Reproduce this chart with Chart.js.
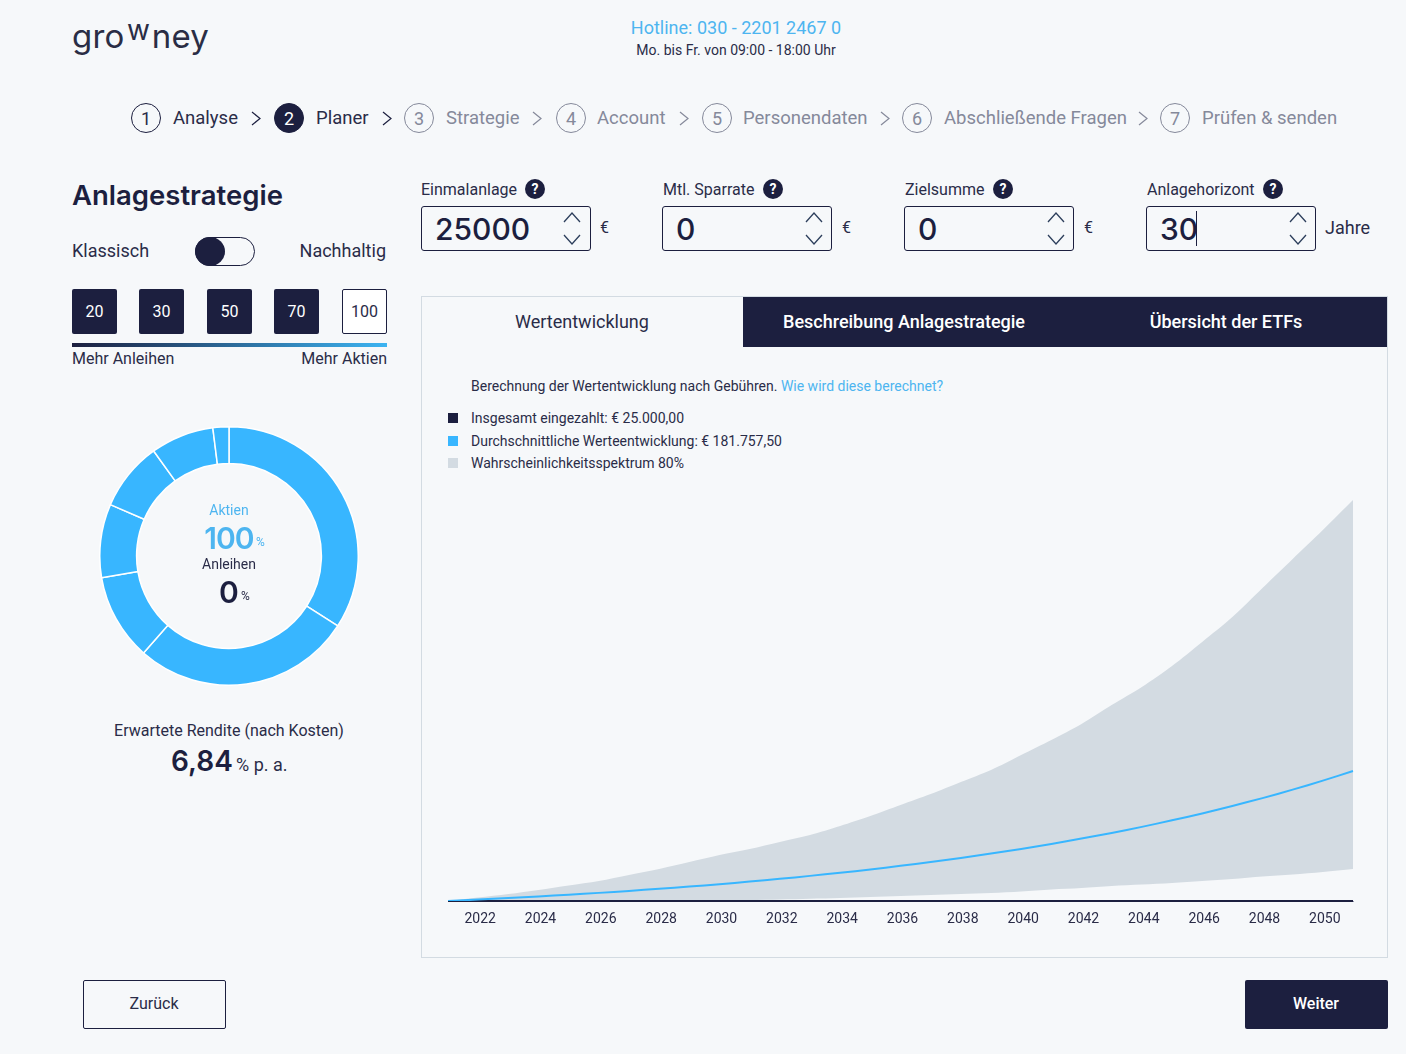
<!DOCTYPE html>
<html lang="de">
<head>
<meta charset="utf-8">
<title>growney Planer</title>
<script src="https://cdn.jsdelivr.net/npm/chart.js@4"></script>
<style>
  :root { --navy:#1c1f3f; --blue:#38b6ff; --link:#4db5f0; --band:#d3dbe2; --mute:#85899a; --bg:#f6f8fa; }
  html, body { margin:0; padding:0; background:var(--bg); }
  body { width:1406px; height:1054px; position:relative; overflow:hidden; font-family:Roboto, sans-serif; color:#2a2c48; }
  .t { position:absolute; white-space:nowrap; line-height:1; transform:translateY(-50%); }
  .c { transform:translate(-50%,-50%); }
  .inter { font-family:Inter, sans-serif; }
  .box { position:absolute; box-sizing:border-box; }
  .pick { top:289px; width:45px; height:45px; background:var(--navy); color:#fff; font-size:16px; display:flex; align-items:center; justify-content:center; border-radius:2px; }
  .pick.off { background:#fff; color:#2a2c48; border:1px solid var(--navy); }
  .step { width:30px; height:30px; top:103px; border:1px solid var(--navy); border-radius:50%; display:flex; align-items:center; justify-content:center; font-size:18px; }
  .step.on { background:var(--navy); color:#fff; }
  .step.todo { border-color:var(--mute); color:var(--mute); }
  .field { top:206px; width:170px; height:45px; border:1px solid var(--navy); border-radius:3px; }
  .val { font-family:Inter, sans-serif; font-size:30px; font-weight:500; color:var(--navy); }
  .help { width:20px; height:20px; top:179px; border-radius:50%; background:var(--navy); color:#fff; font-size:14px; font-weight:700; display:flex; align-items:center; justify-content:center; }
  svg.ic { position:absolute; overflow:visible; fill:none; }
  .tab { top:297px; height:50px; background:var(--navy); }
  .sw { width:10px; height:10px; left:448px; }
  #bandChart { position:absolute; left:422px; top:490px; }
  #donutChart { position:absolute; left:99px; top:426px; }
</style>
</head>
<body>
<div class="t inter" style="left:72px;top:36px;font-size:33px;color:#2a2d45;letter-spacing:.2px">gro<span style="display:inline-block;transform:translateY(-6px) scale(.85,.85)">w</span>ney</div>
<div class="t c" style="left:736px;top:28px;font-size:18px;color:var(--link)">Hotline: 030 - 2201 2467 0</div>
<div class="t c" style="left:736px;top:50px;font-size:14px">Mo. bis Fr. von 09:00 - 18:00 Uhr</div>
<div id="steps"></div>

<div class="t inter" style="left:72px;top:196px;font-size:27.5px;font-weight:600;color:var(--navy)">Anlagestrategie</div>
<div class="t" style="left:72px;top:251px;font-size:18px">Klassisch</div>
<div class="box" style="left:195px;top:237px;width:60px;height:29px;border:1px solid var(--navy);border-radius:15px"></div>
<div class="box" style="left:195px;top:237px;width:30px;height:29px;background:var(--navy);border-radius:50%"></div>
<div class="t" style="right:1020px;top:251px;font-size:18px">Nachhaltig</div>
<div class="box pick" style="left:72px">20</div>
<div class="box pick" style="left:139px">30</div>
<div class="box pick" style="left:207px">50</div>
<div class="box pick" style="left:274px">70</div>
<div class="box pick off" style="left:342px">100</div>
<div class="box" style="left:72px;top:343px;width:315px;height:4px;background:linear-gradient(90deg,#1c1f3f,#3cb4f2)"></div>
<div class="t" style="left:72px;top:359px;font-size:16px">Mehr Anleihen</div>
<div class="t" style="right:1019px;top:359px;font-size:16px">Mehr Aktien</div>

<canvas id="donutChart" width="260" height="260"></canvas>
<div class="t c" style="left:229px;top:510px;font-size:14px;color:var(--link)">Aktien</div>
<div class="t c inter" style="left:229px;top:538px;font-size:30px;font-weight:600;color:var(--link);letter-spacing:-1px">100</div>
<div class="t" style="left:256px;top:542px;font-size:12px;color:var(--link)">%</div>
<div class="t c" style="left:229px;top:564px;font-size:14px">Anleihen</div>
<div class="t c inter" style="left:229px;top:592px;font-size:30px;font-weight:600;color:var(--navy)">0</div>
<div class="t" style="left:241px;top:596px;font-size:12px">%</div>
<div class="t c" style="left:229px;top:731px;font-size:16px">Erwartete Rendite (nach Kosten)</div>
<div class="t inter" style="left:171px;top:761px;font-size:28px;font-weight:600;color:var(--navy)">6,84</div>
<div class="t" style="left:236px;top:765px;font-size:18px">% p. a.</div>

<div id="fields"></div>

<div class="box" style="left:421px;top:296px;width:967px;height:662px;border:1px solid var(--band)"></div>
<div class="box tab" style="left:743px;width:644px"></div>
<div class="t c" style="left:582px;top:322px;font-size:18px">Wertentwicklung</div>
<div class="t c" style="left:904px;top:322px;font-size:18px;font-weight:500;color:#fff">Beschreibung Anlagestrategie</div>
<div class="t c" style="left:1226px;top:322px;font-size:18px;font-weight:500;color:#fff">Übersicht der ETFs</div>
<div class="t" style="left:471px;top:386px;font-size:14px">Berechnung der Wertentwicklung nach Gebühren. <span style="color:var(--link)">Wie wird diese berechnet?</span></div>
<div class="box sw" style="top:413px;background:var(--navy)"></div>
<div class="t" style="left:471px;top:418px;font-size:14px">Insgesamt eingezahlt: € 25.000,00</div>
<div class="box sw" style="top:436px;background:var(--blue)"></div>
<div class="t" style="left:471px;top:441px;font-size:14px">Durchschnittliche Werteentwicklung: € 181.757,50</div>
<div class="box sw" style="top:458px;background:var(--band)"></div>
<div class="t" style="left:471px;top:463px;font-size:14px">Wahrscheinlichkeitsspektrum 80%</div>
<canvas id="bandChart" width="965" height="460"></canvas>

<div class="box" style="left:83px;top:980px;width:143px;height:49px;border:1px solid var(--navy);border-radius:2px"></div>
<div class="t c" style="left:154px;top:1004px;font-size:16px">Zurück</div>
<div class="box" style="left:1245px;top:980px;width:143px;height:49px;background:var(--navy);border-radius:2px"></div>
<div class="t c" style="left:1316px;top:1004px;font-size:16px;font-weight:500;color:#fff">Weiter</div>

<script>
  const years = [2021,2022,2023,2024,2025,2026,2027,2028,2029,2030,2031,2032,2033,2034,2035,2036,2037,2038,2039,2040,2041,2042,2043,2044,2045,2046,2047,2048,2049,2050,2051];
  const deposited = [25000,25000,25000,25000,25000,25000,25000,25000,25000,25000,25000,25000,25000,25000,25000,25000,25000,25000,25000,25000,25000,25000,25000,25000,25000,25000,25000,25000,25000,25000,25000];
  const average = [25000,26700,28500,30500,32600,34800,37200,39700,42400,45300,48400,51700,55300,59000,63100,67400,72000,76900,82200,87800,93800,100300,107100,114400,122300,130600,139600,149100,159300,170200,181757];
  const upper = [25000,29200,33400,38300,43700,49100,56400,63600,72000,80500,87700,96200,104600,115500,127500,140800,154000,168500,183000,201100,219200,238500,261400,283100,308400,337400,367500,402500,437500,472400,508600];
  const lower = [25000,25000,25000,25000,25000,25000,25000,25000,25400,25600,26000,26800,27700,28600,29800,31000,32200,33400,34600,36500,38900,40700,43100,44900,46700,49100,51500,54500,57000,60000,63600];
  const tickYears = [2022,2024,2026,2028,2030,2032,2034,2036,2038,2040,2042,2044,2046,2048,2050];
  const slices = [34.1,27.4,10.8,9.2,8.6,7.9,2.0];
  const sliceNames = ['Aktien Welt','Aktien USA','Aktien Europa','Aktien Pazifik','Aktien Schwellenländer','Aktien Nebenwerte','Aktien Sonstige'];

  const steps = [
    ['1','Analyse',146,173,256,''],['2','Planer',289,316,387,'on'],['3','Strategie',419,446,537,'todo'],
    ['4','Account',571,597,684,'todo'],['5','Personendaten',717,743,885,'todo'],
    ['6','Abschließende Fragen',917,944,1143,'todo'],['7','Prüfen & senden',1175,1202,null,'todo']
  ];
  const chevron = (x, col) => `<svg class="ic" style="left:${x-5}px;top:111px" width="10" height="15"><path d="M1 1 L9 7.5 L1 14" stroke="${col}" stroke-width="1.2"/></svg>`;
  document.getElementById('steps').innerHTML = steps.map(([n, label, cx, tx, cv, state]) => `
    <div class="box step ${state}" style="left:${cx-15}px">${n}</div>
    <div class="t" style="left:${tx}px;top:118px;font-size:18.5px;color:${state === 'todo' ? 'var(--mute)' : '#2a2c48'}">${label.replace('&', '&amp;')}</div>
    ${cv ? chevron(cv, state === 'todo' ? 'var(--mute)' : 'var(--navy)') : ''}`).join('');

  const fields = [
    ['Einmalanlage',421,535,'25000','€',600],['Mtl. Sparrate',663,773,'0','€',842],
    ['Zielsumme',905,1003,'0','€',1084],['Anlagehorizont',1147,1273,'30','Jahre',1325]
  ];
  const spinner = (x) => `
    <svg class="ic" style="left:${x-9}px;top:212px" width="18" height="12"><path d="M1 10 L9 1 L17 10" stroke="#2d3f5c" stroke-width="1.3"/></svg>
    <svg class="ic" style="left:${x-9}px;top:233px" width="18" height="12"><path d="M1 2 L9 11 L17 2" stroke="#2d3f5c" stroke-width="1.3"/></svg>`;
  document.getElementById('fields').innerHTML = fields.map(([label, x, hx, val, unit, ux]) => `
    <div class="t" style="left:${x}px;top:190px;font-size:16px">${label}</div>
    <div class="box help" style="left:${hx-10}px">?</div>
    <div class="box field" style="left:${x === 421 ? 421 : x-1}px"></div>
    <div class="t val" style="left:${x + 14 - (x === 421 ? 0 : 1)}px;top:229px">${val}</div>
    ${spinner(x === 421 ? 572 : x + 151)}
    <div class="t" style="left:${ux}px;top:228px;font-size:${unit === '€' ? 16 : 18}px">${unit}</div>`).join('')
    + '<div class="box" style="left:1196px;top:211px;width:1px;height:35px;background:#1c1f3f"></div>';

  new Chart(document.getElementById('donutChart'), {
    type: 'doughnut',
    data: { labels: sliceNames, datasets: [{ data: slices, backgroundColor: '#38b6ff', borderColor: '#ffffff', borderWidth: 1.5, hoverOffset: 0 }] },
    options: { responsive: false, animation: false, cutout: '71.5%', layout: { padding: 0 }, plugins: { legend: { display: false }, tooltip: { enabled: false } } }
  });

  new Chart(document.getElementById('bandChart'), {
    type: 'line',
    data: {
      labels: years,
      datasets: [
        { label: 'Durchschnittliche Werteentwicklung', data: average, borderColor: '#38b6ff', borderWidth: 2, pointRadius: 0, tension: .3, fill: false },
        { label: 'Insgesamt eingezahlt', data: deposited, borderColor: '#1c1f3f', borderWidth: 2, pointRadius: 0, fill: false, clip: false },
        { label: 'Wahrscheinlichkeitsspektrum 80%', data: upper, borderColor: 'transparent', borderWidth: 0, pointRadius: 0, tension: .3, backgroundColor: '#d3dbe2', fill: '+1' },
        { label: 'Untere Grenze', data: lower, borderColor: 'transparent', borderWidth: 0, pointRadius: 0, tension: .3, fill: false }
      ]
    },
    options: {
      responsive: false,
      animation: false,
      layout: { padding: { left: 26, right: 34, top: 10, bottom: 0 } },
      plugins: { legend: { display: false }, tooltip: { enabled: false } },
      scales: {
        x: {
          grid: { display: false, drawTicks: false },
          border: { color: '#8f92a8', width: 1 },
          afterFit: (s) => { s.height = 49; },
          ticks: {
            autoSkip: false, maxRotation: 0, padding: 10, labelOffset: 2,
            color: '#2a2c48', font: { family: 'Roboto', size: 14 },
            callback(v) { const y = this.getLabelForValue(v); return tickYears.includes(y) ? String(y) : ''; }
          }
        },
        y: { display: false, min: 25000, max: 508600 }
      }
    }
  });
</script>
</body>
</html>
